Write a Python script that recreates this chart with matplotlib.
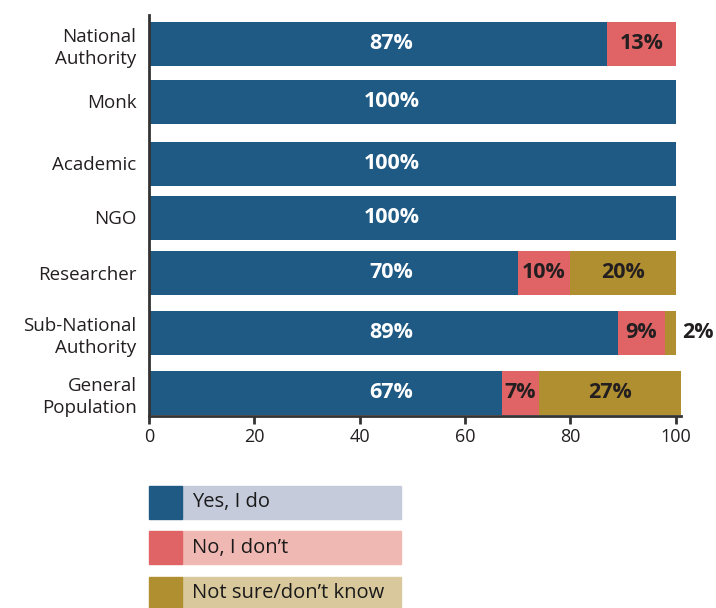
import matplotlib
matplotlib.use("Agg")
import matplotlib.pyplot as plt
from matplotlib.patches import Rectangle

plt.rcParams['font.family'] = ['Open Sans', 'DejaVu Sans']

categories = ["National\nAuthority", "Monk", "Academic", "NGO", "Researcher",
              "Sub-National\nAuthority", "General\nPopulation"]
yes_vals = [87, 100, 100, 100, 70, 89, 67]
no_vals = [13, 0, 0, 0, 10, 9, 7]
unsure_vals = [0, 0, 0, 0, 20, 2, 27]
series_names = ["Yes, I do", "No, I don\u2019t", "Not sure/don\u2019t know"]
xticks = [0, 20, 40, 60, 80, 100]

# layout (pixel-like vertical coordinates, top to bottom)
row_centers = [43.5, 101.5, 163.5, 217.5, 272.5, 333, 393]
bar_h = 44
colors = ["#1f5a85", "#e06466", "#b08f30"]
light = ["#c5cbda", "#f0b8b2", "#d8c89c"]
dark = "#231f20"
val_fs = 15.5

fig = plt.figure(figsize=(7.16, 6.08), dpi=100)
W, H = 716, 608
ax = fig.add_axes([149 / W, 1 - 416 / H, 532 / W, 401 / H])
ax.set_xlim(0, 101)
ax.set_ylim(416, 15)

for i, y in enumerate(row_centers):
    ax.barh(y, yes_vals[i], height=bar_h, color=colors[0])
    ax.barh(y, no_vals[i], left=yes_vals[i], height=bar_h, color=colors[1])
    ax.barh(y, unsure_vals[i], left=yes_vals[i] + no_vals[i], height=bar_h,
            color=colors[2])
    ax.text(46, y, f"{yes_vals[i]}%", ha="center", va="center", color="white",
            fontsize=val_fs, fontweight="bold")
    if no_vals[i]:
        ax.text(yes_vals[i] + no_vals[i] / 2, y, f"{no_vals[i]}%", ha="center",
                va="center", color=dark, fontsize=val_fs, fontweight="bold")
    if unsure_vals[i]:
        if unsure_vals[i] >= 5:
            ax.text(yes_vals[i] + no_vals[i] + unsure_vals[i] / 2, y,
                    f"{unsure_vals[i]}%", ha="center", va="center", color=dark,
                    fontsize=val_fs, fontweight="bold")
        else:
            ax.text(yes_vals[i] + no_vals[i] + unsure_vals[i] + 1.3, y,
                    f"{unsure_vals[i]}%", ha="left", va="center", color=dark,
                    fontsize=val_fs, fontweight="bold")

ax.set_yticks(row_centers)
ax.set_yticklabels(categories, fontsize=13.5, color=dark,
                   multialignment="right", linespacing=1.3)
ax.tick_params(axis="y", length=0, pad=9)
ax.set_xticks(xticks)
ax.set_xticklabels([str(t) for t in xticks], fontsize=13, color=dark)
ax.tick_params(axis="x", length=6, width=2, color="#333333", pad=3)
for s in ["top", "right"]:
    ax.spines[s].set_visible(False)
for s in ["left", "bottom"]:
    ax.spines[s].set_linewidth(2)
    ax.spines[s].set_color("#333333")

# legend as colored boxes below the chart
rows_y = [486, 531, 577]
for k, name in enumerate(series_names):
    y0 = rows_y[k]
    fig.patches.append(Rectangle((182 / W, 1 - (y0 + 33) / H), 219 / W, 33 / H,
                                 transform=fig.transFigure, color=light[k]))
    fig.patches.append(Rectangle((149 / W, 1 - (y0 + 33) / H), 33 / W, 33 / H,
                                 transform=fig.transFigure, color=colors[k]))
    fig.text(192 / W, 1 - (y0 + 16.5) / H, name, ha="left", va="center",
             fontsize=14.5, color="#1a1a1a")

fig.savefig("out.png", dpi=100)
